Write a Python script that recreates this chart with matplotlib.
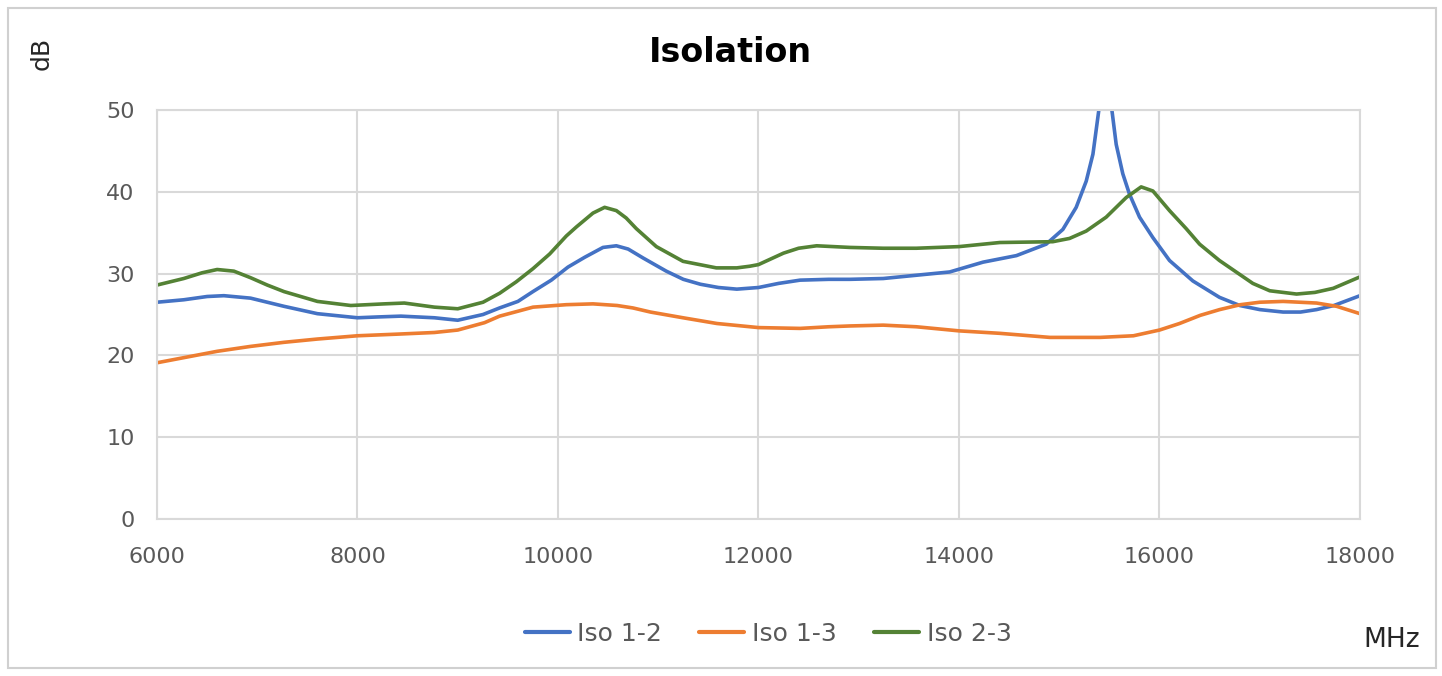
import matplotlib
matplotlib.use("Agg")
import matplotlib.pyplot as plt
from matplotlib.patches import Rectangle

title = "Isolation"
y_label = "dB"
x_label = "MHz"
series_names = ["Iso 1-2", "Iso 1-3", "Iso 2-3"]
colors = ["#4472C4", "#ED7D31", "#548235"]

# Iso 1-2
f12 = [6000, 6267, 6500, 6667, 6933, 7267, 7600, 8000, 8200, 8433, 8767, 9000,
       9252, 9417, 9600, 9750, 9933, 10100, 10267, 10449, 10582, 10700, 10850,
       11080, 11250, 11420, 11600, 11784, 12000, 12200, 12415, 12700, 12912,
       13244, 13575, 13907, 14240, 14573, 14870, 15036, 15169, 15269, 15336,
       15395, 15460, 15525, 15568, 15634, 15701, 15801, 15934, 16100, 16333,
       16598, 16800, 17000, 17233, 17407, 17567, 17740, 18000]
v12 = [26.5, 26.8, 27.2, 27.3, 27.0, 26.0, 25.1, 24.6, 24.7, 24.8, 24.6, 24.3,
       25.0, 25.8, 26.6, 27.8, 29.2, 30.8, 32.0, 33.2, 33.4, 33.0, 31.9,
       30.3, 29.3, 28.7, 28.3, 28.1, 28.3, 28.8, 29.2, 29.3, 29.3,
       29.4, 29.8, 30.2, 31.4, 32.2, 33.6, 35.4, 38.1, 41.3, 44.6,
       50.0, 58.0, 50.0, 45.8, 42.2, 39.7, 36.9, 34.4, 31.6, 29.1,
       27.1, 26.1, 25.6, 25.3, 25.3, 25.6, 26.1, 27.3]

# Iso 1-3
f13 = [6000, 6300, 6600, 6933, 7267, 7600, 8000, 8400, 8767, 9000, 9267, 9418,
       9600, 9751, 10083, 10349, 10590, 10748, 10922, 11247, 11585, 12000, 12415,
       12700, 12912, 13244, 13575, 14000, 14405, 14907, 15407, 15740, 16000,
       16200, 16407, 16600, 16807, 17000, 17233, 17567, 17767, 18000]
v13 = [19.1, 19.8, 20.5, 21.1, 21.6, 22.0, 22.4, 22.6, 22.8, 23.1, 24.0, 24.8,
       25.4, 25.9, 26.2, 26.3, 26.1, 25.8, 25.3, 24.6, 23.9, 23.4, 23.3,
       23.5, 23.6, 23.7, 23.5, 23.0, 22.7, 22.2, 22.2, 22.4, 23.1,
       23.9, 24.9, 25.6, 26.2, 26.5, 26.6, 26.4, 26.0, 25.1]

# Iso 2-3
f23 = [6000, 6267, 6450, 6600, 6767, 6933, 7100, 7267, 7600, 7933, 8267, 8467,
       8767, 9000, 9252, 9418, 9584, 9750, 9917, 10083, 10183, 10349, 10465,
       10582, 10680, 10781, 10981, 11247, 11579, 11784, 11912, 12000, 12249,
       12400, 12580, 12912, 13244, 13575, 14000, 14407, 14936, 15103, 15269,
       15468, 15668, 15817, 15934, 16100, 16266, 16400, 16598, 16931, 17100,
       17367, 17550, 17733, 18000]
v23 = [28.6, 29.4, 30.1, 30.5, 30.3, 29.5, 28.6, 27.8, 26.6, 26.1, 26.3, 26.4,
       25.9, 25.7, 26.5, 27.6, 29.0, 30.6, 32.4, 34.6, 35.7, 37.4, 38.1,
       37.7, 36.8, 35.5, 33.3, 31.5, 30.7, 30.7, 30.9, 31.1, 32.5,
       33.1, 33.4, 33.2, 33.1, 33.1, 33.3, 33.8, 33.9, 34.3, 35.2,
       36.9, 39.3, 40.6, 40.1, 37.7, 35.5, 33.6, 31.6, 28.8, 27.9,
       27.5, 27.7, 28.2, 29.6]

x_ticks = [6000, 8000, 10000, 12000, 14000, 16000, 18000]
y_ticks = [0, 10, 20, 30, 40, 50]

W, H = 1442, 676
fig = plt.figure(figsize=(W / 100, H / 100), dpi=100)
ax = fig.add_axes([157 / W, 1 - 519 / H, (1360 - 157) / W, (519 - 110) / H])

for f, v, name, c in zip([f12, f13, f23], [v12, v13, v23], series_names, colors):
    ax.plot(f, v, color=c, lw=2.6, label=name, solid_joinstyle="round",
            solid_capstyle="round")

ax.set_xlim(6000, 18000)
ax.set_ylim(0, 50)
ax.set_xticks(x_ticks)
ax.set_yticks(y_ticks)
ax.grid(True, color="#d9d9d9", lw=1.5)
ax.set_axisbelow(True)
for s in ax.spines.values():
    s.set_color("#d9d9d9")
    s.set_linewidth(1.5)
ax.tick_params(length=0, labelsize=16, labelcolor="#595959")
ax.tick_params(axis="y", pad=16)
ax.tick_params(axis="x", pad=20)
for lab in ax.get_xticklabels() + ax.get_yticklabels():
    lab.set_family("DejaVu Sans")

fig.text(730 / W, 1 - 52 / H, title, ha="center", va="center",
         fontsize=24, fontweight="bold", family="DejaVu Sans")
fig.text(42 / W, 1 - 53 / H, y_label, ha="center", va="center",
         rotation=90, fontsize=18, family="DejaVu Sans", color="#262626")
fig.text(1392 / W, 1 - 640 / H, x_label, ha="center", va="center",
         fontsize=19, family="DejaVu Sans", color="#262626")

leg = fig.legend(loc="center", bbox_to_anchor=(768 / W, 1 - 634 / H), ncol=3,
                 frameon=False, handlelength=1.8, columnspacing=1.5,
                 handletextpad=0.3, prop={"family": "DejaVu Sans", "size": 18})
for t in leg.get_texts():
    t.set_color("#595959")
for h in leg.get_lines():
    h.set_linewidth(3)

fig.patches.append(Rectangle((8 / W, 8 / H), (1436 - 8) / W, (668 - 8) / H,
                             transform=fig.transFigure, fill=False,
                             edgecolor="#d0d0d0", lw=1.5))

fig.savefig("out.png", dpi=100)
